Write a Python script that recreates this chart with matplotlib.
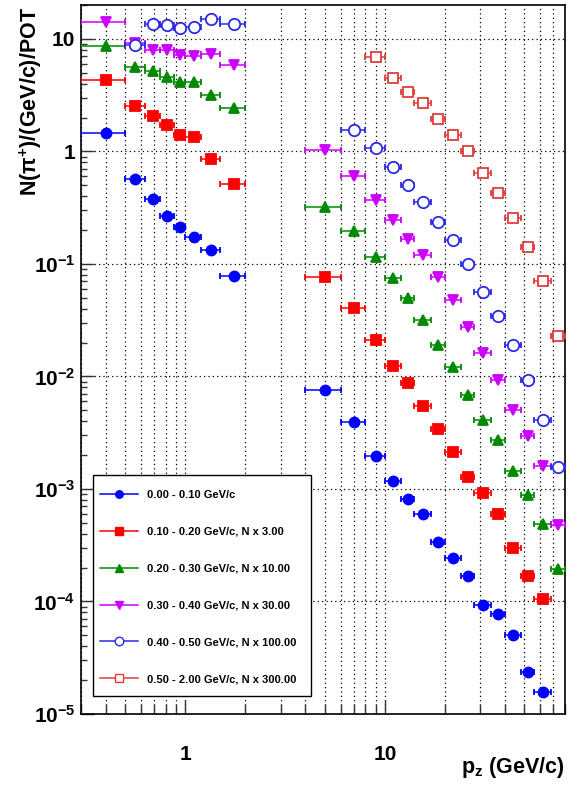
#!/usr/bin/env python3
"""pi+ yield vs p_z in slices of p_t (log-log, ROOT style)."""
import numpy as np
import matplotlib
matplotlib.use("Agg")
import matplotlib.pyplot as plt
from matplotlib.lines import Line2D
from matplotlib.patches import Rectangle
from matplotlib.ticker import LogLocator, FuncFormatter, NullFormatter

# bin edges in p_z (GeV/c): low-p region and high-p region
EDGES_LO = [0.3, 0.5, 0.625, 0.75, 0.875, 1.0, 1.2, 1.5, 2.0]
EDGES_HI = [4, 6, 8, 10, 12, 14, 17, 20, 24, 28, 34, 40, 48, 56, 68, 80]

nan = np.nan
# values as drawn (already scaled by N x factor)
PT000_LO = [1.47, 0.573, 0.375, 0.266, 0.213, 0.173, 0.134, 0.0787]
PT000_HI = [7.65e-3, 3.97e-3, 1.98e-3, 1.17e-3, 8.07e-4, 5.93e-4, 3.39e-4,
            2.43e-4, 1.70e-4, 9.4e-5, 7.73e-5, 5.0e-5, 2.34e-5, 1.58e-5, nan]
PT010_LO = [4.33, 2.55, 2.06, 1.73, 1.41, 1.34, 0.861, 0.517]
PT010_HI = [0.0765, 0.0406, 0.0210, 0.0124, 8.75e-3, 5.51e-3, 3.40e-3,
            2.12e-3, 1.27e-3, 9.12e-4, 5.93e-4, 2.98e-4, 1.67e-4, 1.06e-4, nan]
PT020_LO = [8.56, 5.61, 5.13, 4.61, 4.12, 4.12, 3.16, 2.44]
PT020_HI = [0.32, 0.195, 0.115, 0.075, 0.0495, 0.0316, 0.0189, 0.0121,
            6.9e-3, 4.14e-3, 2.70e-3, 1.43e-3, 8.81e-4, 4.84e-4, 1.94e-4]
PT030_LO = [14.1, 9.16, 8.0, 7.89, 7.22, 6.98, 7.37, 5.89]
PT030_HI = [1.02, 0.604, 0.373, 0.248, 0.168, 0.119, 0.0766, 0.0475,
            0.0275, 0.0163, 9.25e-3, 5.08e-3, 2.94e-3, 1.59e-3, 4.77e-4]
PT040_LO = [nan, 8.87, 13.6, 13.4, 12.4, 12.7, 15.0, 13.6]
PT040_HI = [nan, 1.56, 1.07, 0.721, 0.506, 0.357, 0.236, 0.162,
            0.0991, 0.056, 0.0343, 0.0192, 9.25e-3, 4.06e-3, 1.57e-3]
PT050_LO = [nan] * 8
PT050_HI = [nan, nan, 6.93, 4.51, 3.34, 2.69, 1.95, 1.41,
            1.0, 0.647, 0.424, 0.256, 0.142, 0.070, 0.0229]

LABELS = ["0.00 - 0.10 GeV/c",
          "0.10 - 0.20 GeV/c, N x 3.00",
          "0.20 - 0.30 GeV/c, N x 10.00",
          "0.30 - 0.40 GeV/c, N x 30.00",
          "0.40 - 0.50 GeV/c, N x 100.00",
          "0.50 - 2.00 GeV/c, N x 300.00"]

# (color, marker, markersize, filled)
STYLES = [("#0000ff", "o", 7.2, True),
          ("#ff0000", "s", 7.0, True),
          ("#008a00", "^", 7.6, True),
          ("#cc00ff", "v", 7.6, True),
          ("#2a2ae6", "o", 8.2, False),
          ("#e03c3c", "s", 7.6, False)]

OUT = "out.png"


def centers(edges):
    e = np.asarray(edges, float)
    c = 0.5 * (e[:-1] + e[1:])
    return c, c - e[:-1], e[1:] - c


def main():
    plt.rcParams["font.family"] = ["Liberation Sans", "DejaVu Sans"]
    plt.rcParams["font.weight"] = "bold"
    plt.rcParams["mathtext.fontset"] = "custom"
    plt.rcParams["mathtext.rm"] = "Liberation Sans:bold"
    plt.rcParams["mathtext.it"] = "Liberation Sans:bold:italic"
    plt.rcParams["mathtext.bf"] = "Liberation Sans:bold"
    plt.rcParams["mathtext.default"] = "rm"

    fig = plt.figure(figsize=(5.77, 7.85), dpi=100)
    ax = fig.add_axes([81 / 577, 71 / 785, 484 / 577, 709 / 785])

    series = [(PT000_LO, PT000_HI), (PT010_LO, PT010_HI), (PT020_LO, PT020_HI),
              (PT030_LO, PT030_HI), (PT040_LO, PT040_HI), (PT050_LO, PT050_HI)]
    handles = []
    for (lo, hi), (col, mk, ms, filled), lab in zip(series, STYLES, LABELS):
        for edges, vals in ((EDGES_LO, lo), (EDGES_HI, hi)):
            x, xl, xh = centers(edges)
            y = np.asarray(vals, float)
            ok = ~np.isnan(y)
            ax.errorbar(x[ok], y[ok], xerr=[xl[ok], xh[ok]], fmt=mk, color=col,
                        ms=ms, mfc=col if filled else "white", mec=col,
                        mew=1.3, elinewidth=1.1, capsize=2.2, capthick=1.0,
                        zorder=3)
        handles.append(Line2D([], [], color=col, lw=1.1, marker=mk, ms=ms * 0.75,
                              mfc=col if filled else "white", mec=col, mew=1.0,
                              label=lab))

    ax.set_xscale("log")
    ax.set_yscale("log")
    ax.set_xlim(0.3, 80)
    ax.set_ylim(1e-5, 20)

    ax.xaxis.set_major_locator(LogLocator(base=10))
    ax.xaxis.set_minor_locator(LogLocator(base=10, subs=np.arange(2, 10)))
    ax.xaxis.set_major_formatter(FuncFormatter(lambda v, p: "%g" % v))
    ax.xaxis.set_minor_formatter(NullFormatter())
    ax.yaxis.set_major_locator(LogLocator(base=10, numticks=20))
    ax.yaxis.set_minor_locator(LogLocator(base=10, subs=np.arange(2, 10), numticks=20))
    ax.yaxis.set_minor_formatter(NullFormatter())

    def ylab(v, pos):
        e = int(round(np.log10(v)))
        if e == 0:
            return "1"
        if e == 1:
            return "10"
        return r"$10^{%d}$" % e
    ax.yaxis.set_major_formatter(FuncFormatter(ylab))

    ax.tick_params(which="both", direction="in", top=False, right=False,
                   labelsize=15, width=1.0, color="#333333")
    ax.tick_params(axis="x", which="major", length=10, pad=22)
    ax.tick_params(axis="x", which="minor", length=7)
    ax.tick_params(axis="y", which="major", length=9, pad=4)
    ax.tick_params(axis="y", which="minor", length=4.5)
    for s in ax.spines.values():
        s.set_linewidth(1.2)

    ax.grid(True, axis="x", which="both", ls=(0, (1, 2.5)), color="black", lw=0.9)
    ax.grid(True, axis="y", which="major", ls=(0, (1, 2.5)), color="black", lw=0.9)
    ax.set_axisbelow(True)

    # legend box (ROOT TLegend style)
    box = Rectangle((0.024, 0.0254), 0.451, 0.3117, transform=ax.transAxes,
                    facecolor="white", edgecolor="black", lw=1.0, zorder=5)
    ax.add_patch(box)
    leg = ax.legend(handles=handles, loc="upper left",
                    bbox_to_anchor=(0.0393, 0.3157), borderaxespad=0,
                    borderpad=0, fontsize=8, handlelength=3.4,
                    handletextpad=0.85, labelspacing=2.41, frameon=False)
    leg.set_zorder(6)

    fig.text(31 / 577, 1 - 7 / 785, r"N($\pi^{+}$)/(GeV/c)/POT", rotation=90,
             ha="center", va="top", fontsize=15.5, fontweight="bold")
    fig.text(565 / 577, 1 - 755 / 785, r"p$_{\mathrm{z}}$ (GeV/c)",
             ha="right", va="top", fontsize=15.5, fontweight="bold")

    fig.savefig(OUT, dpi=100)
    plt.close(fig)
    print("wrote", OUT)


if __name__ == "__main__":
    main()
